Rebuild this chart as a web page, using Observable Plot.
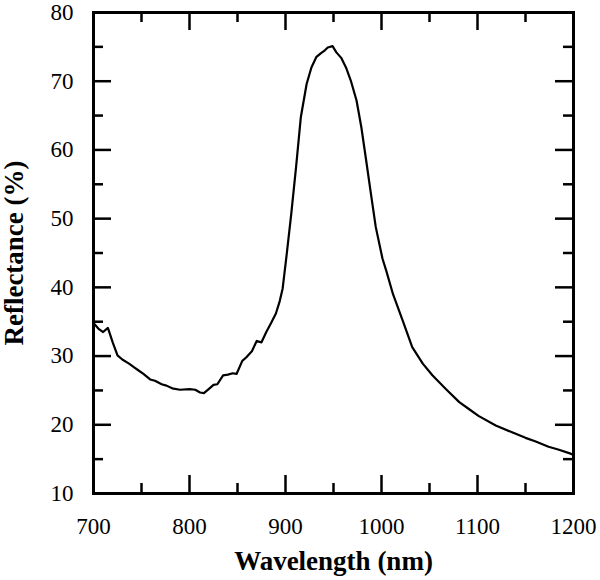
<!DOCTYPE html>
<html>
<head>
<meta charset="utf-8">
<script src="https://cdn.jsdelivr.net/npm/d3@7"></script>
<script src="https://cdn.jsdelivr.net/npm/@observablehq/plot@0.6"></script>
<style>
  html, body { margin: 0; padding: 0; background: #fff; }
  #chart svg { font-family: "Liberation Serif", "Times New Roman", serif; background: #fff; }
  g[aria-label="x-axis label"] text, g[aria-label="y-axis label"] text {
    font-size: 27px; font-weight: bold; fill: #000;
  }
</style>
</head>
<body>
<div id="chart"></div>
<script>
const wavelength = [700, 705, 710, 715, 720, 725, 730, 737, 742, 747, 752, 759, 764, 771, 776, 782, 790, 800, 806, 811, 815, 820, 825, 829, 835, 840, 845, 849, 855, 859, 865, 870, 875, 880, 885, 890, 894, 897, 901, 906, 911, 916, 922, 927, 932, 937, 941, 944, 949, 953, 958, 963, 968, 974, 979, 984, 989, 994, 1001, 1005, 1012, 1022, 1032, 1043, 1053, 1067, 1081, 1091, 1101, 1119, 1136, 1150, 1160, 1174, 1184, 1197, 1200];
const reflectance = [34.8, 34.0, 33.5, 34.1, 32.0, 30.1, 29.5, 28.9, 28.4, 27.9, 27.4, 26.6, 26.4, 25.9, 25.7, 25.3, 25.1, 25.2, 25.1, 24.7, 24.6, 25.2, 25.8, 25.9, 27.2, 27.3, 27.5, 27.4, 29.3, 29.8, 30.7, 32.2, 32.0, 33.5, 34.8, 36.2, 38.0, 39.8, 44.5, 50.7, 57.5, 64.8, 69.6, 72.0, 73.5, 74.1, 74.5, 74.9, 75.1, 74.2, 73.4, 72.0, 70.1, 67.2, 63.3, 58.5, 53.6, 48.8, 44.2, 42.4, 39.0, 35.2, 31.3, 28.9, 27.2, 25.2, 23.3, 22.3, 21.3, 19.9, 18.9, 18.1, 17.6, 16.8, 16.4, 15.8, 15.6];
const xMajorTicks = [700, 800, 900, 1000, 1100, 1200];
const xMinorTicks = [750, 850, 950, 1050, 1150];
const yMajorTicks = [10, 20, 30, 40, 50, 60, 70, 80];
const yMinorTicks = [15, 25, 35, 45, 55, 65, 75];
const xTitle = "Wavelength (nm)";
const yTitle = "Reflectance (%)";

const data = wavelength.map((w, i) => ({w, r: reflectance[i]}));

const W = 600, H = 580, mL = 93, mR = 27, mT = 12, mB = 87;
const plotW = W - mL - mR, plotH = H - mT - mB;
const major = 18, minor = 10;

const chart = Plot.plot({
  width: W,
  height: H,
  marginLeft: mL,
  marginRight: mR,
  marginTop: mT,
  marginBottom: mB,
  style: {fontFamily: "Liberation Serif", color: "#000", background: "#fff"},
  x: {domain: [700, 1200]},
  y: {domain: [10, 80]},
  marks: [
    // inward ticks on all four sides
    Plot.tickX(xMajorTicks, {x: d => d, stroke: "#000", strokeWidth: 2.5, insetTop: plotH - major}),
    Plot.tickX(xMinorTicks, {x: d => d, stroke: "#000", strokeWidth: 2.5, insetTop: plotH - minor}),
    Plot.tickX(xMajorTicks, {x: d => d, stroke: "#000", strokeWidth: 2.5, insetBottom: plotH - major}),
    Plot.tickX(xMinorTicks, {x: d => d, stroke: "#000", strokeWidth: 2.5, insetBottom: plotH - minor}),
    Plot.tickY(yMajorTicks, {y: d => d, stroke: "#000", strokeWidth: 2.5, insetRight: plotW - major}),
    Plot.tickY(yMinorTicks, {y: d => d, stroke: "#000", strokeWidth: 2.5, insetRight: plotW - minor}),
    Plot.tickY(yMajorTicks, {y: d => d, stroke: "#000", strokeWidth: 2.5, insetLeft: plotW - major}),
    Plot.tickY(yMinorTicks, {y: d => d, stroke: "#000", strokeWidth: 2.5, insetLeft: plotW - minor}),
    // labels
    Plot.axisX(xMajorTicks, {anchor: "bottom", tickSize: 0, tickPadding: 24, fontSize: 23, tickFormat: d => String(d),
      label: xTitle, labelAnchor: "center", labelArrow: "none", labelOffset: 76}),
    Plot.axisY(yMajorTicks, {anchor: "left", tickSize: 0, tickPadding: 20, fontSize: 23, tickFormat: d => String(d),
      label: yTitle, labelAnchor: "center", labelArrow: "none", labelOffset: 90}),
    Plot.frame({stroke: "#000", strokeWidth: 3}),
    Plot.line(data, {x: "w", y: "r", stroke: "#000", strokeWidth: 2.2})
  ]
});
document.getElementById("chart").appendChild(chart);
</script>
</body>
</html>
